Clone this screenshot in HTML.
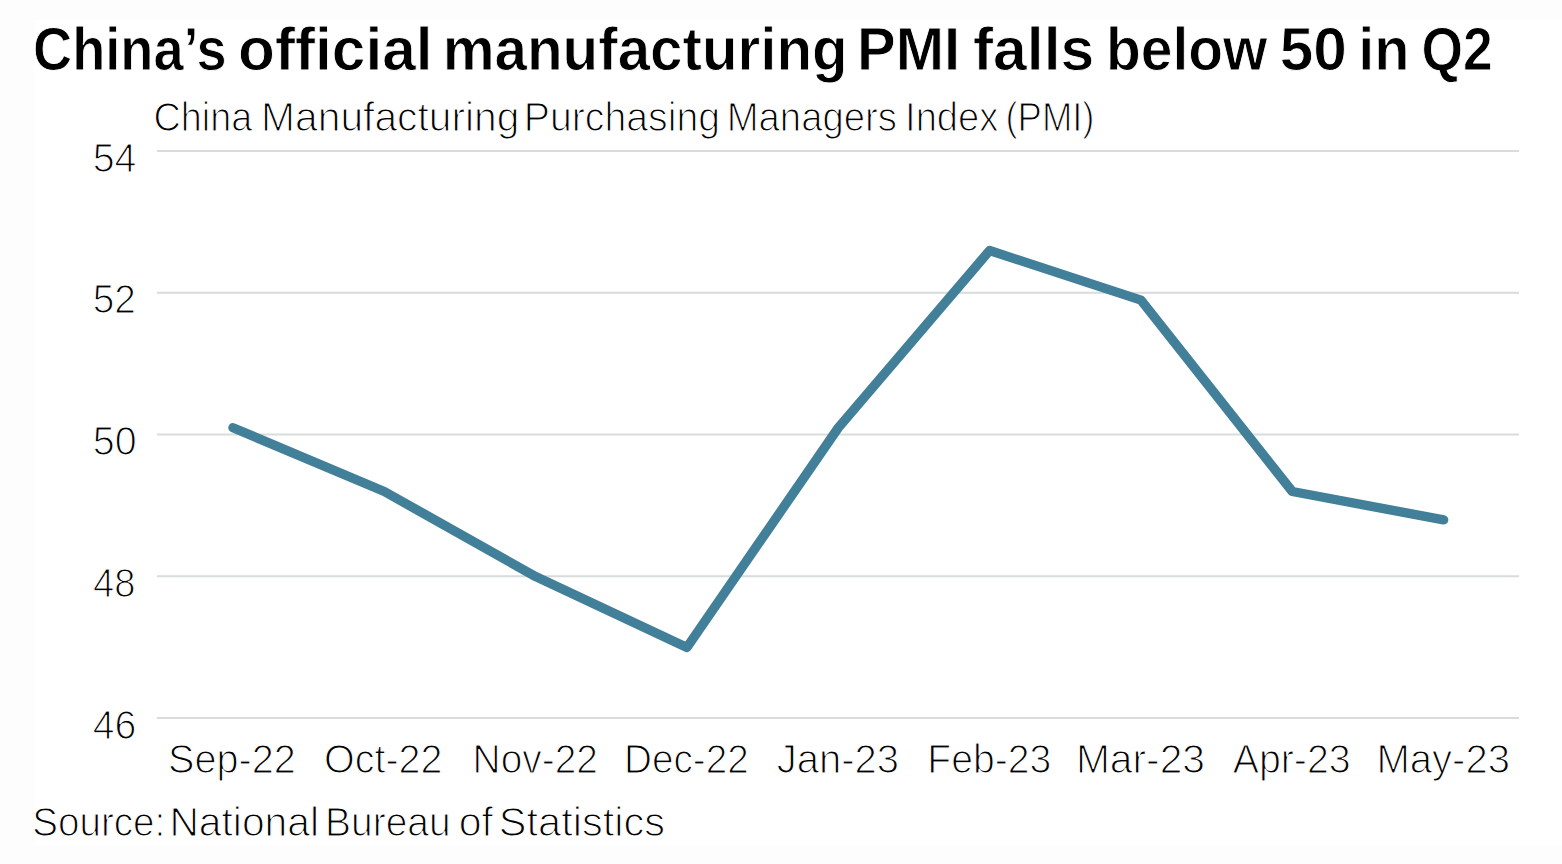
<!DOCTYPE html>
<html><head><meta charset="utf-8"><style>
html,body{margin:0;padding:0;background:#fdfdfd;}
body{width:1562px;height:864px;overflow:hidden;position:relative;}
#panel{position:absolute;left:34px;top:20px;width:1528px;height:825px;background:#ffffff;}
svg{position:absolute;left:0;top:0;}
text{font-family:"Liberation Sans",sans-serif;fill:#000;}
.thin text{stroke:#fff;stroke-width:1.2px;}
.thinb text{stroke:#fff;stroke-width:0.9px;}
</style></head><body>
<div id="panel"></div>
<svg width="1562" height="864" viewBox="0 0 1562 864">
<g class="thinb" font-weight="bold"><text x="33.04" y="70.2" font-size="61" textLength="193.67" lengthAdjust="spacingAndGlyphs">China’s</text><text x="238.03" y="70.2" font-size="61" textLength="194.48" lengthAdjust="spacingAndGlyphs">official</text><text x="442.68" y="70.2" font-size="61" textLength="405.03" lengthAdjust="spacingAndGlyphs">manufacturing</text><text x="857.10" y="70.2" font-size="61" textLength="103.13" lengthAdjust="spacingAndGlyphs">PMI</text><text x="972.91" y="70.2" font-size="61" textLength="121.43" lengthAdjust="spacingAndGlyphs">falls</text><text x="1105.97" y="70.2" font-size="61" textLength="161.31" lengthAdjust="spacingAndGlyphs">below</text><text x="1279.63" y="70.2" font-size="61" textLength="67.19" lengthAdjust="spacingAndGlyphs">50</text><text x="1358.28" y="70.2" font-size="61" textLength="51.19" lengthAdjust="spacingAndGlyphs">in</text><text x="1421.38" y="70.2" font-size="61" textLength="71.20" lengthAdjust="spacingAndGlyphs">Q2</text></g>
<rect x="157" y="150.00" width="1362" height="2" fill="#d9dcdc"/><rect x="157" y="291.75" width="1362" height="2" fill="#d9dcdc"/><rect x="157" y="433.50" width="1362" height="2" fill="#d9dcdc"/><rect x="157" y="575.25" width="1362" height="2" fill="#d9dcdc"/><rect x="157" y="717.00" width="1362" height="2" fill="#d9dcdc"/>
<g class="thin">
<text x="153.57" y="130.5" font-size="40" textLength="98.71" lengthAdjust="spacingAndGlyphs">China</text><text x="261.12" y="130.5" font-size="40" textLength="258.30" lengthAdjust="spacingAndGlyphs">Manufacturing</text><text x="523.78" y="130.5" font-size="40" textLength="196.27" lengthAdjust="spacingAndGlyphs">Purchasing</text><text x="726.67" y="130.5" font-size="40" textLength="170.31" lengthAdjust="spacingAndGlyphs">Managers</text><text x="905.09" y="130.5" font-size="40" textLength="93.27" lengthAdjust="spacingAndGlyphs">Index</text><text x="1005.47" y="130.5" font-size="40" textLength="89.04" lengthAdjust="spacingAndGlyphs">(PMI)</text>
<text x="92.65" y="171.5" font-size="40" textLength="43.71" lengthAdjust="spacingAndGlyphs">54</text><text x="92.69" y="313.25" font-size="40" textLength="43.12" lengthAdjust="spacingAndGlyphs">52</text><text x="92.75" y="455.0" font-size="40" textLength="43.80" lengthAdjust="spacingAndGlyphs">50</text><text x="93.09" y="596.75" font-size="40" textLength="42.37" lengthAdjust="spacingAndGlyphs">48</text><text x="92.64" y="738.5" font-size="40" textLength="43.60" lengthAdjust="spacingAndGlyphs">46</text>
<text x="168.03" y="773.3" font-size="40" textLength="127.73" lengthAdjust="spacingAndGlyphs">Sep-22</text><text x="324.03" y="773.3" font-size="40" textLength="118.38" lengthAdjust="spacingAndGlyphs">Oct-22</text><text x="472.61" y="773.3" font-size="40" textLength="125.27" lengthAdjust="spacingAndGlyphs">Nov-22</text><text x="624.03" y="773.3" font-size="40" textLength="124.64" lengthAdjust="spacingAndGlyphs">Dec-22</text><text x="776.70" y="773.3" font-size="40" textLength="122.29" lengthAdjust="spacingAndGlyphs">Jan-23</text><text x="927.29" y="773.3" font-size="40" textLength="123.87" lengthAdjust="spacingAndGlyphs">Feb-23</text><text x="1075.93" y="773.3" font-size="40" textLength="129.01" lengthAdjust="spacingAndGlyphs">Mar-23</text><text x="1232.72" y="773.3" font-size="40" textLength="117.90" lengthAdjust="spacingAndGlyphs">Apr-23</text><text x="1376.39" y="773.3" font-size="40" textLength="133.58" lengthAdjust="spacingAndGlyphs">May-23</text>
<text x="32.31" y="836.0" font-size="40" textLength="133.00" lengthAdjust="spacingAndGlyphs">Source:</text><text x="169.42" y="836.0" font-size="40" textLength="149.58" lengthAdjust="spacingAndGlyphs">National</text><text x="325.11" y="836.0" font-size="40" textLength="125.49" lengthAdjust="spacingAndGlyphs">Bureau</text><text x="458.65" y="836.0" font-size="40" textLength="34.22" lengthAdjust="spacingAndGlyphs">of</text><text x="498.89" y="836.0" font-size="40" textLength="166.03" lengthAdjust="spacingAndGlyphs">Statistics</text>
</g>
<polyline points="232.97,427.71 384.30,491.50 535.63,576.55 686.97,647.42 838.30,427.71 989.63,250.52 1140.97,300.14 1292.30,491.50 1443.63,519.85" fill="none" stroke="#427f99" stroke-width="9.4" stroke-linejoin="round" stroke-linecap="round"/>
</svg>
</body></html>
